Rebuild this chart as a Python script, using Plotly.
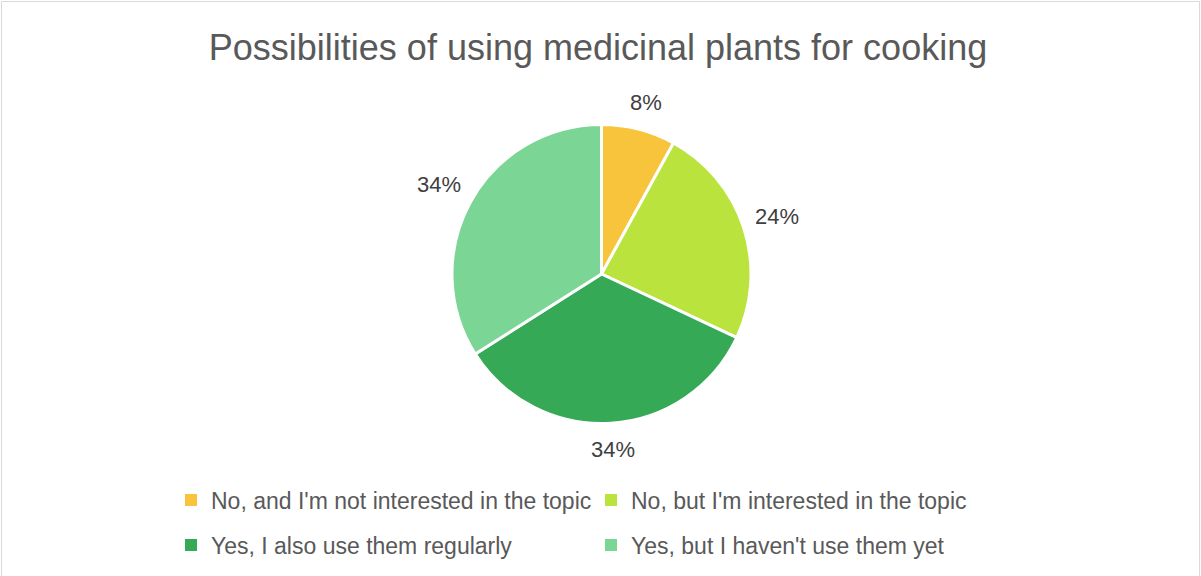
import math
import plotly.graph_objects as go

categories = [
    "No, and I'm not interested in the topic",
    "No, but I'm interested in the topic",
    "Yes, I also use them regularly",
    "Yes, but I haven't use them yet",
]
shares = [8, 24, 34, 34]
colors = ["#F8C43B", "#BAE33E", "#36A957", "#7BD595"]
legend_rows = ["legend", "legend", "legend2", "legend2"]

W, H = 1201, 576
FONT = "Liberation Sans, Arial, sans-serif"

# pie placement (pixels)
CX, CY, R = 601.5, 274, 149.5
LABEL_SIZE = 22
LABEL_GAP = 14


def fx(p):
    return p / W


def fy(p):
    return 1 - p / H


fig = go.Figure()

fig.add_trace(
    go.Pie(
        labels=categories,
        values=shares,
        sort=False,
        direction="clockwise",
        rotation=0,
        marker=dict(colors=colors, line=dict(color="#FFFFFF", width=3)),
        textinfo="none",
        hoverinfo="label+percent",
        showlegend=False,
        domain=dict(x=[fx(CX - R), fx(CX + R)], y=[fy(CY + R), fy(CY - R)]),
    )
)

# legend entries, two per row
for name, col, lg in zip(categories, colors, legend_rows):
    fig.add_trace(
        go.Scatter(
            x=[None],
            y=[None],
            mode="markers",
            name=name,
            marker=dict(symbol="square", size=12, color=col),
            legend=lg,
            hoverinfo="skip",
        )
    )

# percentage labels just outside each slice
total = sum(shares)
annotations = []
cum = 0
for v in shares:
    mid = (cum + v / 2) / total * 2 * math.pi
    cum += v
    txt = f"{round(v / total * 100)}%"
    hw = 0.56 * LABEL_SIZE * len(txt) / 2
    hh = LABEL_SIZE / 2
    s, c = math.sin(mid), math.cos(mid)
    d = R + LABEL_GAP + hw * abs(s) + hh * abs(c)
    annotations.append(
        dict(
            x=fx(CX + d * s),
            y=fy(CY - d * c),
            xref="paper",
            yref="paper",
            text=txt,
            showarrow=False,
            xanchor="center",
            yanchor="middle",
            font=dict(family=FONT, size=LABEL_SIZE, color="#404040"),
        )
    )

legend_common = dict(
    orientation="h",
    xanchor="left",
    yanchor="middle",
    entrywidth=375,
    entrywidthmode="pixels",
    font=dict(family=FONT, size=23, color="#595959"),
    bgcolor="rgba(0,0,0,0)",
)

fig.update_layout(
    width=W,
    height=H,
    margin=dict(l=0, r=0, t=0, b=0),
    paper_bgcolor="#FFFFFF",
    plot_bgcolor="#FFFFFF",
    title=dict(
        text="Possibilities of using medicinal plants for cooking",
        x=fx(598),
        xanchor="center",
        y=fy(47),
        yanchor="middle",
        font=dict(family=FONT, size=36, color="#595959"),
    ),
    xaxis=dict(visible=False),
    yaxis=dict(visible=False),
    legend=dict(x=fx(171), y=fy(500), **legend_common),
    legend2=dict(x=fx(171), y=fy(545), **legend_common),
    annotations=annotations,
    shapes=[
        dict(
            type="rect",
            xref="paper",
            yref="paper",
            x0=fx(1.5),
            x1=fx(1199.5),
            y0=fy(H + 2),
            y1=fy(1.5),
            line=dict(color="#D9D9D9", width=1),
            fillcolor="rgba(0,0,0,0)",
            layer="below",
        )
    ],
)

fig.write_html("out.html")
